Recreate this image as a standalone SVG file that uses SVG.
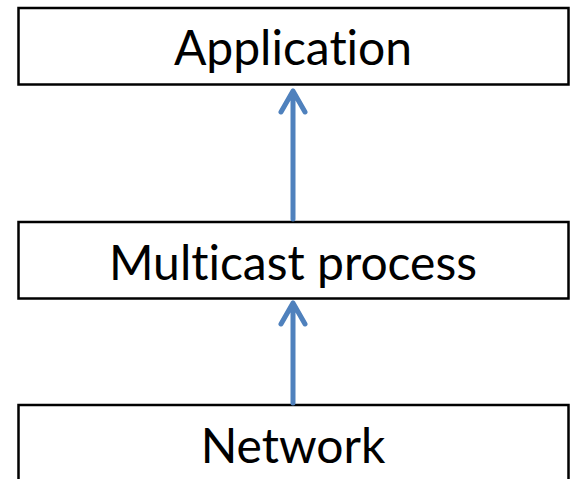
<svg xmlns="http://www.w3.org/2000/svg" width="573" height="479" viewBox="0 0 573 479">
<defs>
<style>
.box{fill:#fff;stroke:#000;stroke-width:2.5}
.lbl{font-family:Lato,"Liberation Sans",sans-serif;font-size:48px;fill:#000;text-anchor:middle;font-variant-ligatures:none;font-feature-settings:"liga" 0}
.arr{fill:none;stroke:#4F81BD;stroke-width:5;stroke-linecap:round;stroke-linejoin:round}
</style>
</defs>
<rect width="573" height="479" fill="#fff"/>
<g id="application">
<rect class="box" x="18.5" y="8" width="550" height="76.5"/>
<text class="lbl" x="293" y="65">Application</text>
</g>
<g id="multicast">
<rect class="box" x="18.5" y="222" width="550" height="76.5"/>
<text class="lbl" x="293" y="280">Multicast process</text>
</g>
<g id="network">
<rect class="box" x="18.5" y="405" width="550" height="80"/>
<text class="lbl" x="293" y="463">Network</text>
</g>
<g id="connectors">
<path class="arr" d="M293 219V91M281 112L293 91L305 112"/>
<path class="arr" d="M293 403V303M281 324L293 303L305 324"/>
</g>
</svg>
